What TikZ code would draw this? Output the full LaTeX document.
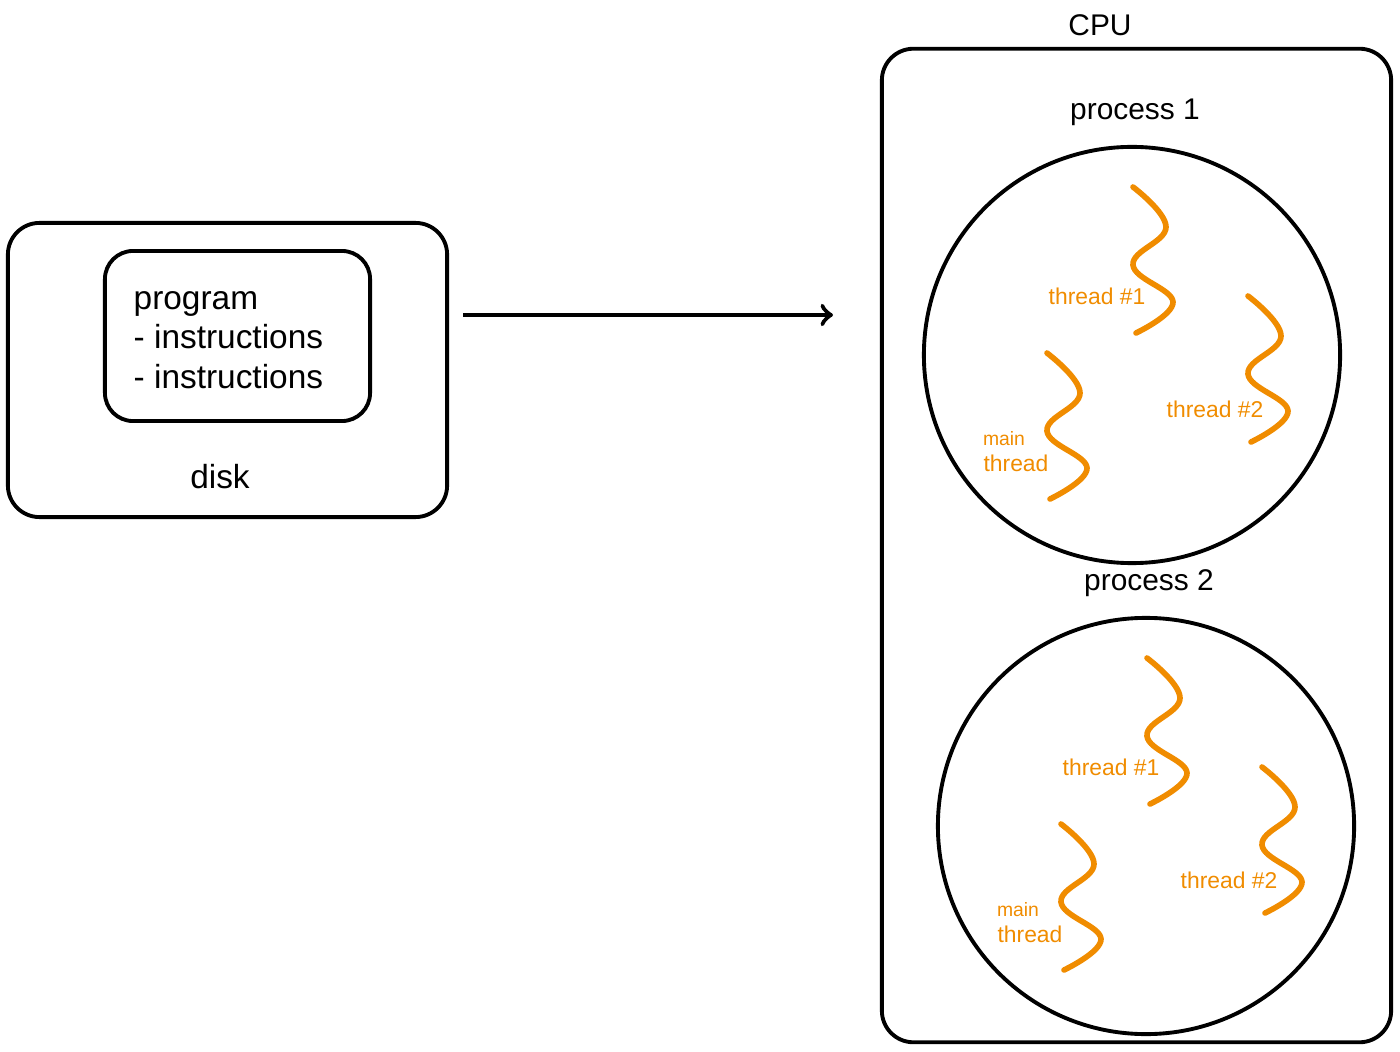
\documentclass[tikz,border=0pt]{standalone}
\usepackage{fontspec}
\setmainfont{Liberation Sans}
\usetikzlibrary{positioning,calc}
\definecolor{thr}{HTML}{F08C00}

\newcommand{\squiggle}[2]{%
	\draw[thr,line width=1.6pt,line cap=round] plot[smooth,tension=0.7] coordinates
	{(#1,#2) ($(#1,#2)+(33,40)$) ($(#1,#2)+(0,78)$) ($(#1,#2)+(40,115)$) ($(#1,#2)+(3,146)$)};}

\begin{document}
\begin{tikzpicture}[x=0.01cm,y=-0.01cm,
	box/.style={draw,line width=1.1pt,rounded corners=9pt},
	lbl/.style={font=\fontsize{9.5}{11.2}\selectfont},
	plbl/.style={font=\fontsize{8.5}{10}\selectfont},
	tlbl/.style={text=thr,font=\fontsize{6.5}{8}\selectfont,inner sep=0pt},
	proc/.style={draw,circle,line width=1.1pt,minimum size=4.16cm,inner sep=0pt}]
\useasboundingbox (0,0) rectangle (1400,1052);

%disk
\node[box,minimum width=4.39cm,minimum height=2.94cm] (disk) at (227.5,370) {};
\node[box,minimum width=2.65cm,minimum height=1.70cm,rounded corners=8pt] (prog) at (237.5,336) {};
\node[lbl,align=left,anchor=west,inner sep=0pt] (progtxt) at (133,340) {program\\- instructions\\- instructions};
\node[lbl] (disklbl) at (220,477) {disk};

%cpu
\node[box,minimum width=5.09cm,minimum height=9.93cm] (cpu) at (1136.5,545.5) {};
\node[plbl] (cpulbl) at (1100,25) {CPU};
\coordinate (from) at (463,315);
\coordinate (to) at (833,315);
\draw[line width=1.3pt,->] (from) -- (to);

%processes
\foreach \i/\dx/\dy in {1/0/0,2/14/471}{
	\begin{scope}[shift={(\dx,\dy)}]
	\node[plbl] (p\i lbl) at (1135,112) {process \i};
	\node[proc] (p\i) at (1132,355) {};
	\squiggle{1133}{187}
	\squiggle{1248}{296}
	\squiggle{1047}{353}
	\node[tlbl] (t\i a) at (1097,296) {thread \#1};
	\node[tlbl] (t\i b) at (1215,409) {thread \#2};
	\node[tlbl,font=\fontsize{5.5}{7}\selectfont] (m\i a) at (1004,439) {main};
	\node[tlbl] (m\i b) at (1016,463) {thread};
	\end{scope}}
\end{tikzpicture}
\end{document}
